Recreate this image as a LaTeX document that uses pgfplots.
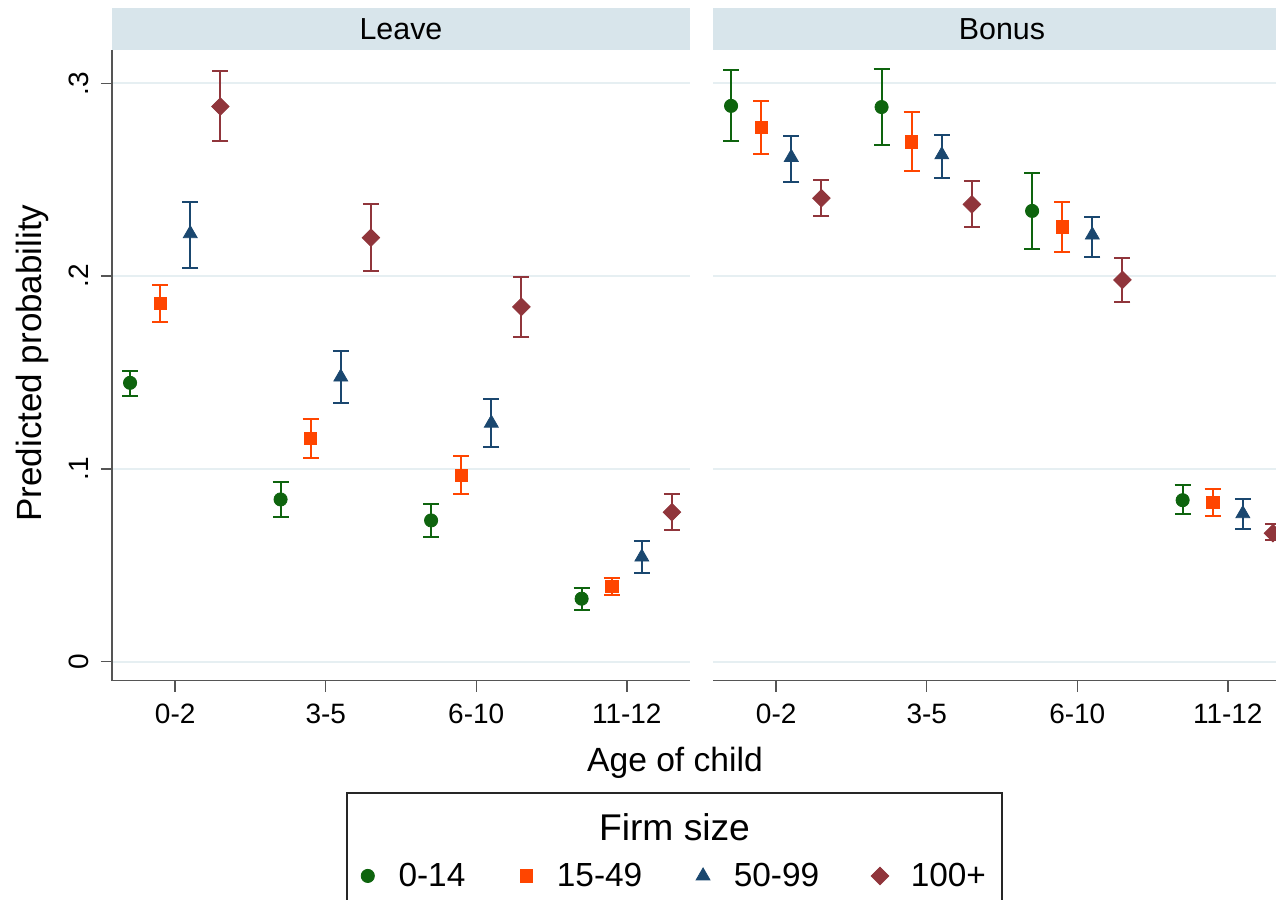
\documentclass[border=0pt]{standalone}
\usepackage{pgfplots}
\pgfplotsset{compat=1.18}
\usepackage{pgfplotstable}
\usepackage{fontspec}
\setmainfont{Liberation Sans}

\definecolor{cA}{RGB}{14,100,14}
\definecolor{cB}{RGB}{255,69,0}
\definecolor{cC}{RGB}{26,71,111}
\definecolor{cD}{RGB}{144,53,59}
\definecolor{stripc}{RGB}{216,229,235}
\definecolor{gridc}{RGB}{230,239,242}
\definecolor{axc}{RGB}{85,85,85}

% Leave panel
\pgfplotstableread{
x y hi lo
0.7 0.1446 0.1508 0.1380
1.7 0.0841 0.0931 0.0750
2.7 0.0732 0.0819 0.0645
3.7 0.0326 0.0383 0.0265
}\LeaveA
\pgfplotstableread{
x y hi lo
0.9 0.1858 0.1953 0.1763
1.9 0.1157 0.1260 0.1054
2.9 0.0966 0.1064 0.0867
3.9 0.0390 0.0435 0.0343
}\LeaveB
\pgfplotstableread{
x y hi lo
1.1 0.2220 0.2386 0.2040
2.1 0.1476 0.1610 0.1341
3.1 0.1237 0.1360 0.1113
4.1 0.0542 0.0625 0.0458
}\LeaveC
\pgfplotstableread{
x y hi lo
1.3 0.2880 0.3063 0.2700
2.3 0.2199 0.2374 0.2026
3.3 0.1840 0.1995 0.1684
4.3 0.0775 0.0867 0.0680
}\LeaveD
% Bonus panel
\pgfplotstableread{
x y hi lo
0.7 0.2883 0.3067 0.2700
1.7 0.2877 0.3075 0.2680
2.7 0.2338 0.2536 0.2140
3.7 0.0837 0.0918 0.0764
}\BonusA
\pgfplotstableread{
x y hi lo
0.9 0.2770 0.2909 0.2632
1.9 0.2696 0.2852 0.2545
2.9 0.2256 0.2386 0.2126
3.9 0.0825 0.0894 0.0754
}\BonusB
\pgfplotstableread{
x y hi lo
1.1 0.2616 0.2727 0.2490
2.1 0.2629 0.2732 0.2511
3.1 0.2213 0.2308 0.2100
4.1 0.0767 0.0841 0.0686
}\BonusC
\pgfplotstableread{
x y hi lo
1.3 0.2404 0.2496 0.2313
2.3 0.2372 0.2493 0.2256
3.3 0.1980 0.2092 0.1866
4.3 0.0666 0.0712 0.0630
}\BonusD

\pgfplotsset{
  panel/.style={
    anchor=north west, scale only axis, width=289pt, height=315.35pt,
    xmin=0.58, xmax=4.42, ymin=-0.00996, ymax=0.3173,
    axis x line*=bottom, axis y line*=left,
    axis line style={-, axc, line width=0.75pt},
    xtick={1,2,3,4}, xticklabels={0-2,3-5,6-10,11-12},
    ytick={0,0.1,0.2,0.3},
    tick align=outside, major tick length=5.5pt,
    tick style={axc, line width=0.75pt},
    ymajorgrids, major grid style={gridc, line width=1pt},
    ticklabel style={font=\fontsize{14}{17}\selectfont},
    xticklabel style={yshift=-2.5pt},
    every axis title shift=0pt,
    title style={at={(0.5,1)}, anchor=south, yshift=0pt, fill=stripc, minimum width=289pt,
      minimum height=21pt, inner sep=0pt, text depth=0pt,
      font=\fontsize{15.2}{18}\selectfont},
    clip=false,
    legend image code/.code={\path (-4pt,0pt) (13pt,0pt); \draw[##1] plot coordinates {(0pt,0pt)};},
  },
  ser/.style n args={4}{only marks, mark=#1, mark size=#3, color=#2,
    mark options={solid, fill=#2, draw=#2, line width=0.4pt, #4},
    error bars/.cd, y dir=both, y explicit,
    error bar style={line width=1pt, color=#2},
    error mark options={rotate=90, mark size=4pt, line width=1pt, color=#2}},
  sA/.style={ser={*}{cA}{3.3pt}{}},
  sB/.style={ser={square*}{cB}{3.1pt}{}},
  sC/.style={ser={triangle*}{cC}{4pt}{}},
  sD/.style={ser={square*}{cD}{3.1pt}{rotate=45}},
}

\begin{document}
\begin{tikzpicture}
\begin{axis}[panel, at={(56pt,-25pt)}, title={Leave},
  yticklabels={0,.1,.2,.3},
  yticklabel style={xshift=-6pt, rotate=90, anchor=base},
  xlabel={Age of child},
  xlabel style={at={(axis description cs:0.974,-0.1443)}, anchor=base, font=\fontsize{16.8}{20}\selectfont},
  ylabel={Predicted probability},
  ylabel style={at={(axis description cs:-0.1216,0.5037)}, anchor=base, rotate=0, font=\fontsize{17.5}{21}\selectfont},
  legend columns=4,
  legend style={at={(axis description cs:0.9732,-0.1765)}, anchor=north,
    draw=black!85, line width=0.75pt, inner xsep=6pt, inner ysep=34pt,
    font=\fontsize{16.7}{20}\selectfont,
    nodes={inner xsep=2pt, inner ysep=1pt},
    /tikz/every even column/.append style={column sep=24pt},
    label={[anchor=base, yshift=-24pt, font=\fontsize{18.6}{22}\selectfont]north:Firm size}},
]
\addplot[sA] table[x=x, y=y, y error plus expr=\thisrow{hi}-\thisrow{y}, y error minus expr=\thisrow{y}-\thisrow{lo}] {\LeaveA};
\addlegendentry{0-14}
\addplot[sB] table[x=x, y=y, y error plus expr=\thisrow{hi}-\thisrow{y}, y error minus expr=\thisrow{y}-\thisrow{lo}] {\LeaveB};
\addlegendentry{15-49}
\addplot[sC] table[x=x, y=y, y error plus expr=\thisrow{hi}-\thisrow{y}, y error minus expr=\thisrow{y}-\thisrow{lo}] {\LeaveC};
\addlegendentry{50-99}
\addplot[sD] table[x=x, y=y, y error plus expr=\thisrow{hi}-\thisrow{y}, y error minus expr=\thisrow{y}-\thisrow{lo}] {\LeaveD};
\addlegendentry{100+}
\end{axis}
\begin{axis}[panel, at={(356.5pt,-25pt)}, title={Bonus},
  yticklabels={}, ytick style={draw=none},
  y axis line style={draw=none},
]
\addplot[sA] table[x=x, y=y, y error plus expr=\thisrow{hi}-\thisrow{y}, y error minus expr=\thisrow{y}-\thisrow{lo}] {\BonusA};
\addplot[sB] table[x=x, y=y, y error plus expr=\thisrow{hi}-\thisrow{y}, y error minus expr=\thisrow{y}-\thisrow{lo}] {\BonusB};
\addplot[sC] table[x=x, y=y, y error plus expr=\thisrow{hi}-\thisrow{y}, y error minus expr=\thisrow{y}-\thisrow{lo}] {\BonusC};
\addplot[sD] table[x=x, y=y, y error plus expr=\thisrow{hi}-\thisrow{y}, y error minus expr=\thisrow{y}-\thisrow{lo}] {\BonusD};
\end{axis}
\pgfresetboundingbox
\path[use as bounding box] (0pt,0pt) rectangle (638pt,-450pt);
\end{tikzpicture}
\end{document}
